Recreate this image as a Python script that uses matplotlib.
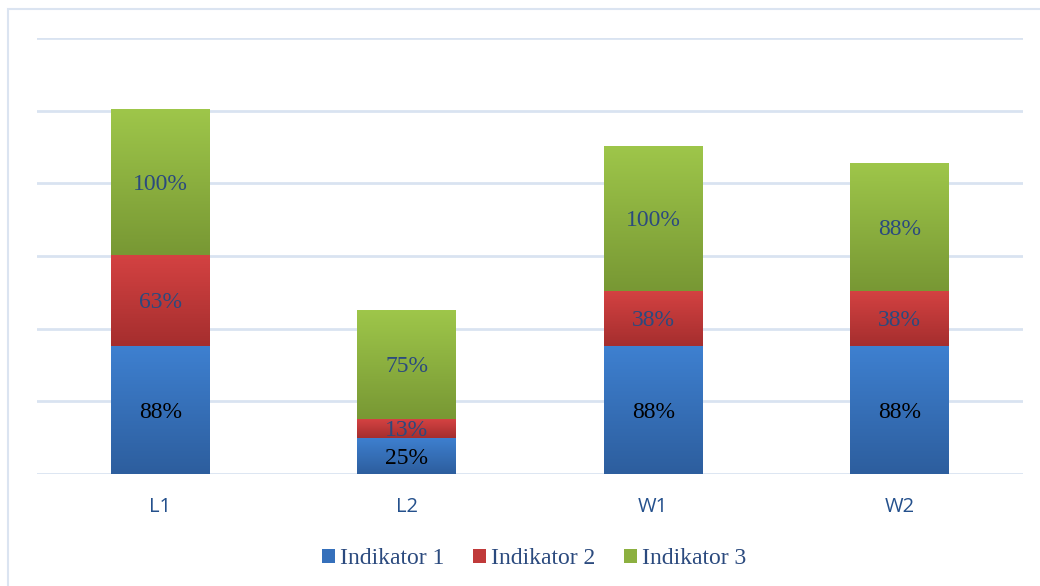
import matplotlib
matplotlib.use('Agg')
from matplotlib import pyplot as plt
from matplotlib.patches import Rectangle
from matplotlib.colors import LinearSegmentedColormap
import numpy as np

# data
categories = ['L1', 'L2', 'W1', 'W2']
series_names = ['Indikator 1', 'Indikator 2', 'Indikator 3']
indikator1 = [88, 25, 88, 88]
indikator2 = [63, 13, 38, 38]
indikator3 = [100, 75, 100, 88]

# top colour, bottom colour for each series
tops = ['#3e80d0', '#d44242', '#9ec64a']
bottoms = ['#2d5e9e', '#a52e2e', '#789834']
mids = ['#3570bb', '#c03a3a', '#8cb040']
label_colors = ['black', '#2b4a7e', '#2b4a7e']

fig = plt.figure(figsize=(10.4, 5.86), dpi=100)
ax = fig.add_axes([37/1040, 1-474/586, 986/1040, 436/586])

# frame around the chart
fig.patches.append(Rectangle((8/1040, -0.1), 1.2, 1.1 - 9/586, transform=fig.transFigure,
                             fill=False, edgecolor='#dbe4f1', linewidth=1.5, zorder=0))

x = np.arange(len(categories))
values = [indikator1, indikator2, indikator3]
bottom = np.zeros(len(categories))
for i, vals in enumerate(values):
    bars = ax.bar(x, vals, width=0.40, bottom=bottom, color=mids[i],
                  label=series_names[i], zorder=2)
    cmap = LinearSegmentedColormap.from_list('g%d' % i, [bottoms[i], tops[i]])
    for b, v in zip(bars, vals):
        x0, y0 = b.get_x(), b.get_y()
        w, h = b.get_width(), b.get_height()
        grad = np.linspace(0, 1, 100).reshape(-1, 1)
        im = ax.imshow(grad, cmap=cmap, origin='lower', aspect='auto',
                       extent=[x0, x0 + w, y0, y0 + h], zorder=2.5)
        im.set_clip_path(b)
        ax.text(x0 + w/2, y0 + h/2, '%d%%' % v, ha='center', va='center_baseline',
                fontsize=17, family='Liberation Serif', color=label_colors[i], zorder=4)
    bottom += np.array(vals)

ax.set_xlim(-0.5, 3.5)
ax.set_ylim(0, 300)
ax.set_yticks(np.arange(0, 301, 50))
ax.yaxis.grid(True, color='#d9e3f1', linewidth=2, zorder=0)
ax.set_axisbelow(True)
ax.tick_params(axis='y', left=False, labelleft=False)
ax.tick_params(axis='x', bottom=False, pad=13)
ax.set_xticks(x)
ax.set_xticklabels(categories, fontsize=14.5, family='Open Sans', color='#24508c')
for s in ax.spines.values():
    s.set_visible(False)

leg = fig.legend(loc='center', bbox_to_anchor=(534/1040, 1-559/586), ncol=3, frameon=False,
                 prop={'family': 'Liberation Serif', 'size': 17}, handlelength=0.55,
                 handleheight=0.55, handletextpad=0.2, columnspacing=1.22)
for t in leg.get_texts():
    t.set_color('#2b4a7e')

fig.savefig('out.png', dpi=100)
